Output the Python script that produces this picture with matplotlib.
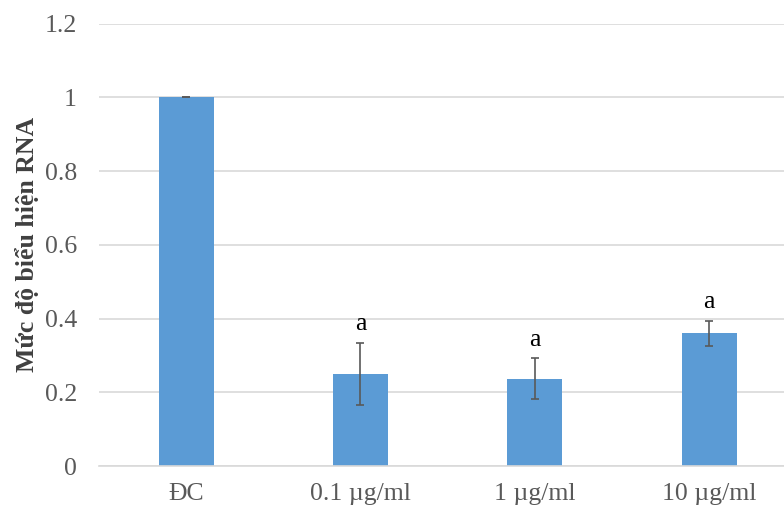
import numpy as np
import matplotlib.pyplot as plt

# data
groups = ['ĐC', '0.1 µg/ml', '1 µg/ml', '10 µg/ml']
rna_level = [1.0, 0.25, 0.237, 0.36]
rna_err = [0.0, 0.085, 0.056, 0.034]
sig_labels = ['', 'a', 'a', 'a']

plt.rcParams['font.family'] = ['Liberation Serif', 'DejaVu Serif']
fs = 18.5

fig = plt.figure(figsize=(7.84, 5.11), dpi=100)
ax = fig.add_axes([99/784, 45/511, (784-99)/784, (466-23.8)/511])

x = np.arange(len(groups))
ax.bar(x, rna_level, width=0.315, color='#5B9BD5', zorder=2)
ax.errorbar(x, rna_level, yerr=rna_err, fmt='none', ecolor='#595959',
            elinewidth=1.2, capsize=3, capthick=1.2, zorder=3)

#significance letters above error bars
for xi, v, e, lab in zip(x, rna_level, rna_err, sig_labels):
    if lab:
        ax.text(xi, v + e + 0.02, lab, ha='center', va='bottom', fontsize=fs)

ax.set_xlim(-0.5, 3.43)
ax.set_ylim(0, 1.2)
ax.set_yticks(np.arange(0, 1.21, 0.2))
ax.set_yticklabels(['0', '0.2', '0.4', '0.6', '0.8', '1', '1.2'])
ax.set_xticks(x)
ax.set_xticklabels(groups)
ax.tick_params(axis='both', length=0, labelsize=fs, labelcolor='#595959')
ax.tick_params(axis='y', pad=16)
ax.tick_params(axis='x', pad=12)

ax.yaxis.grid(True, color='#D9D9D9', linewidth=1.2, zorder=0)
ax.set_axisbelow(True)
for s in ['top', 'right', 'left']:
    ax.spines[s].set_visible(False)
ax.spines['bottom'].set_color('#D9D9D9')
ax.spines['bottom'].set_linewidth(1.2)

ax.set_ylabel('Mức độ biểu hiện RNA', fontsize=fs, fontweight='bold', color='#404040')
ax.yaxis.set_label_coords(-0.087, 0.5)

fig.savefig('out.png', dpi=100)
